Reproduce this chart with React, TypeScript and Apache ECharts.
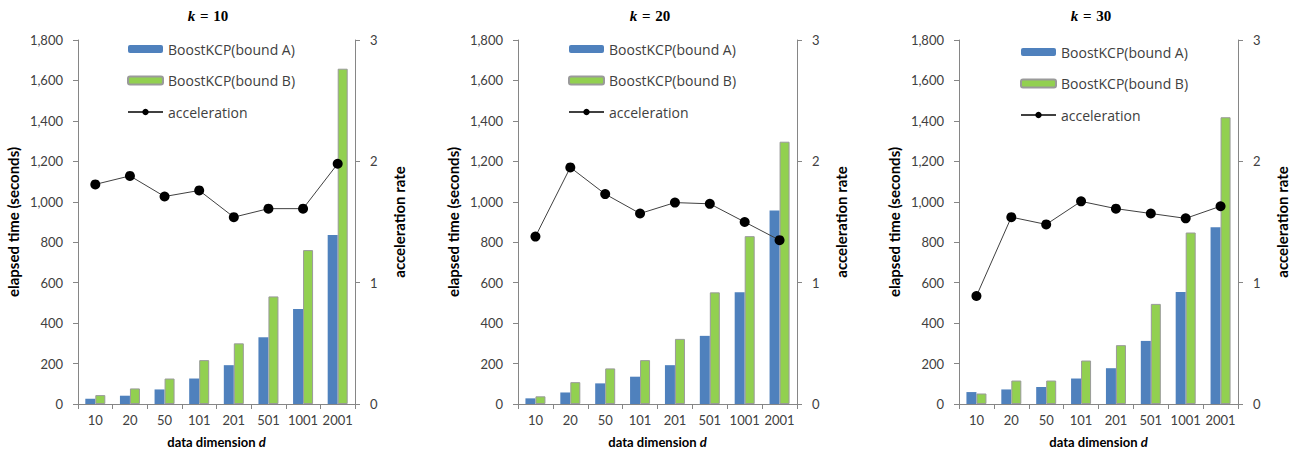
import React, { useEffect, useRef } from "react";
import * as echarts from "echarts";

const categories = ["10", "20", "50", "101", "201", "501", "1001", "2001"];
const panelTitles = ["10", "20", "30"];

const boundA_k10 = [26, 41, 72, 126, 192, 330, 470, 836];
const boundB_k10 = [44, 77, 126, 217, 300, 532, 761, 1658];
const accel_k10 = [1.81, 1.88, 1.71, 1.76, 1.54, 1.61, 1.61, 1.98];

const boundA_k20 = [28, 57, 102, 135, 192, 337, 552, 957];
const boundB_k20 = [38, 108, 176, 217, 322, 552, 830, 1297];
const accel_k20 = [1.38, 1.95, 1.73, 1.57, 1.66, 1.65, 1.5, 1.35];

const boundA_k30 = [59, 72, 84, 126, 177, 312, 554, 874];
const boundB_k30 = [52, 116, 116, 215, 291, 495, 848, 1418];
const accel_k30 = [0.89, 1.54, 1.48, 1.67, 1.61, 1.57, 1.53, 1.63];

const seriesNames = ["BoostKCP(bound A)", "BoostKCP(bound B)", "acceleration"];

const panels = [
  { a: boundA_k10, b: boundB_k10, acc: accel_k10 },
  { a: boundA_k20, b: boundB_k20, acc: accel_k20 },
  { a: boundA_k30, b: boundB_k30, acc: accel_k30 },
];

// layout
const gridLefts = [78, 518, 959];
const gridRights = [355, 797, 1238];
const titleCenters = [203, 645, 1086];
const legendLefts = [122, 563, 1015];
const legendTops = [37, 37, 40];

const FONT = "Lato, 'Open Sans', sans-serif";
const LEGEND_FONT = "'Open Sans', Lato, sans-serif";
const AXIS_COLOR = "#868686";
const TEXT_COLOR = "#404040";
const SERIF = "'Liberation Serif', serif";

export default function App() {
  const ref = useRef<HTMLDivElement>(null);
  useEffect(() => {
    document.body.style.margin = "0";
    if (!ref.current) return;
    const chart = echarts.init(ref.current, null, { renderer: "svg" });

    const title: any[] = [];
    const grid: any[] = [];
    const xAxis: any[] = [];
    const yAxis: any[] = [];
    const legend: any[] = [];
    const series: any[] = [];

    panels.forEach((p, i) => {
      title.push({
        text: "{k|k} {e|=} " + panelTitles[i],
        left: titleCenters[i],
        top: 3,
        textAlign: "center",
        textStyle: {
          fontFamily: SERIF,
          fontSize: 15,
          fontWeight: "bold",
          color: "#000",
          rich: {
            k: { fontFamily: SERIF, fontSize: 15, fontWeight: "bold", fontStyle: "italic", color: "#000" },
            e: { fontFamily: SERIF, fontSize: 15, fontWeight: "bold", color: "#000", padding: [0, 1] },
          },
        },
      });
      grid.push({
        left: gridLefts[i],
        width: gridRights[i] - gridLefts[i],
        top: 40,
        height: 364,
        containLabel: false,
      });
      xAxis.push({
        type: "category",
        gridIndex: i,
        data: categories,
        boundaryGap: true,
        name: "data dimension {i|d}",
        nameLocation: "middle",
        nameGap: 31,
        nameTextStyle: {
          fontFamily: FONT,
          fontSize: 13,
          fontWeight: "bold",
          color: "#000",
          rich: {
            i: { fontFamily: FONT, fontSize: 13, fontWeight: "bold", fontStyle: "italic", color: "#000" },
          },
        },
        axisLine: { show: true, lineStyle: { color: AXIS_COLOR, width: 1 } },
        axisTick: { show: true, alignWithLabel: false, length: 5, lineStyle: { color: AXIS_COLOR } },
        axisLabel: { fontFamily: FONT, fontSize: 13, color: TEXT_COLOR, margin: 9, interval: 0 },
        splitLine: { show: false },
      });
      yAxis.push({
        type: "value",
        gridIndex: i,
        position: "left",
        min: 0,
        max: 1800,
        interval: 200,
        name: "elapsed time (seconds)",
        nameLocation: "middle",
        nameRotate: 90,
        nameGap: 58,
        nameTextStyle: { fontFamily: FONT, fontSize: 15, fontWeight: "bold", color: "#000" },
        axisLine: { show: true, lineStyle: { color: AXIS_COLOR, width: 1 } },
        axisTick: { show: true, length: 5, lineStyle: { color: AXIS_COLOR } },
        axisLabel: {
          fontFamily: FONT,
          fontSize: 13,
          color: TEXT_COLOR,
          margin: 15,
          formatter: (v: number) => v.toLocaleString("en-US"),
        },
        splitLine: { show: false },
      });
      yAxis.push({
        type: "value",
        gridIndex: i,
        position: "right",
        min: 0,
        max: 3,
        interval: 1,
        name: "acceleration rate",
        nameLocation: "middle",
        nameRotate: 90,
        nameGap: 36,
        nameTextStyle: { fontFamily: FONT, fontSize: 15, fontWeight: "bold", color: "#000" },
        axisLine: { show: true, lineStyle: { color: AXIS_COLOR, width: 1 } },
        axisTick: { show: true, length: 5, lineStyle: { color: AXIS_COLOR } },
        axisLabel: { fontFamily: FONT, fontSize: 13, color: TEXT_COLOR, margin: 15 },
        splitLine: { show: false },
      });
      legend.push({
        orient: "vertical",
        left: legendLefts[i],
        top: legendTops[i],
        itemWidth: 35,
        itemHeight: 8,
        itemGap: 17.5,
        selectedMode: false,
        textStyle: { fontFamily: LEGEND_FONT, fontSize: 14, color: TEXT_COLOR, lineHeight: 14 },
        data: seriesNames.map((n) => ({ name: n })),
      });
      series.push({
        name: seriesNames[0],
        type: "bar",
        xAxisIndex: i,
        yAxisIndex: 2 * i,
        data: p.a,
        barWidth: 10,
        barGap: "0%",
        itemStyle: { color: "#4F81BD" },
        z: 2,
      });
      series.push({
        name: seriesNames[1],
        type: "bar",
        xAxisIndex: i,
        yAxisIndex: 2 * i,
        data: p.b,
        barWidth: 10,
        barGap: "0%",
        itemStyle: { color: "#92D050", borderColor: "#9a9a9a", borderWidth: 1 },
        z: 2,
      });
      series.push({
        name: seriesNames[2],
        type: "line",
        xAxisIndex: i,
        yAxisIndex: 2 * i + 1,
        data: p.acc,
        symbol: "circle",
        symbolSize: 10,
        lineStyle: { color: "#404040", width: 1 },
        itemStyle: { color: "#000" },
        z: 5,
      });
    });

    chart.setOption({
      animation: false,
      backgroundColor: "#fff",
      title,
      grid,
      xAxis,
      yAxis,
      legend,
      series,
    });
    return () => chart.dispose();
  }, []);
  return (
    <div
      ref={ref}
      style={{ position: "absolute", left: 0, top: 0, width: 1303, height: 454 }}
    />
  );
}
